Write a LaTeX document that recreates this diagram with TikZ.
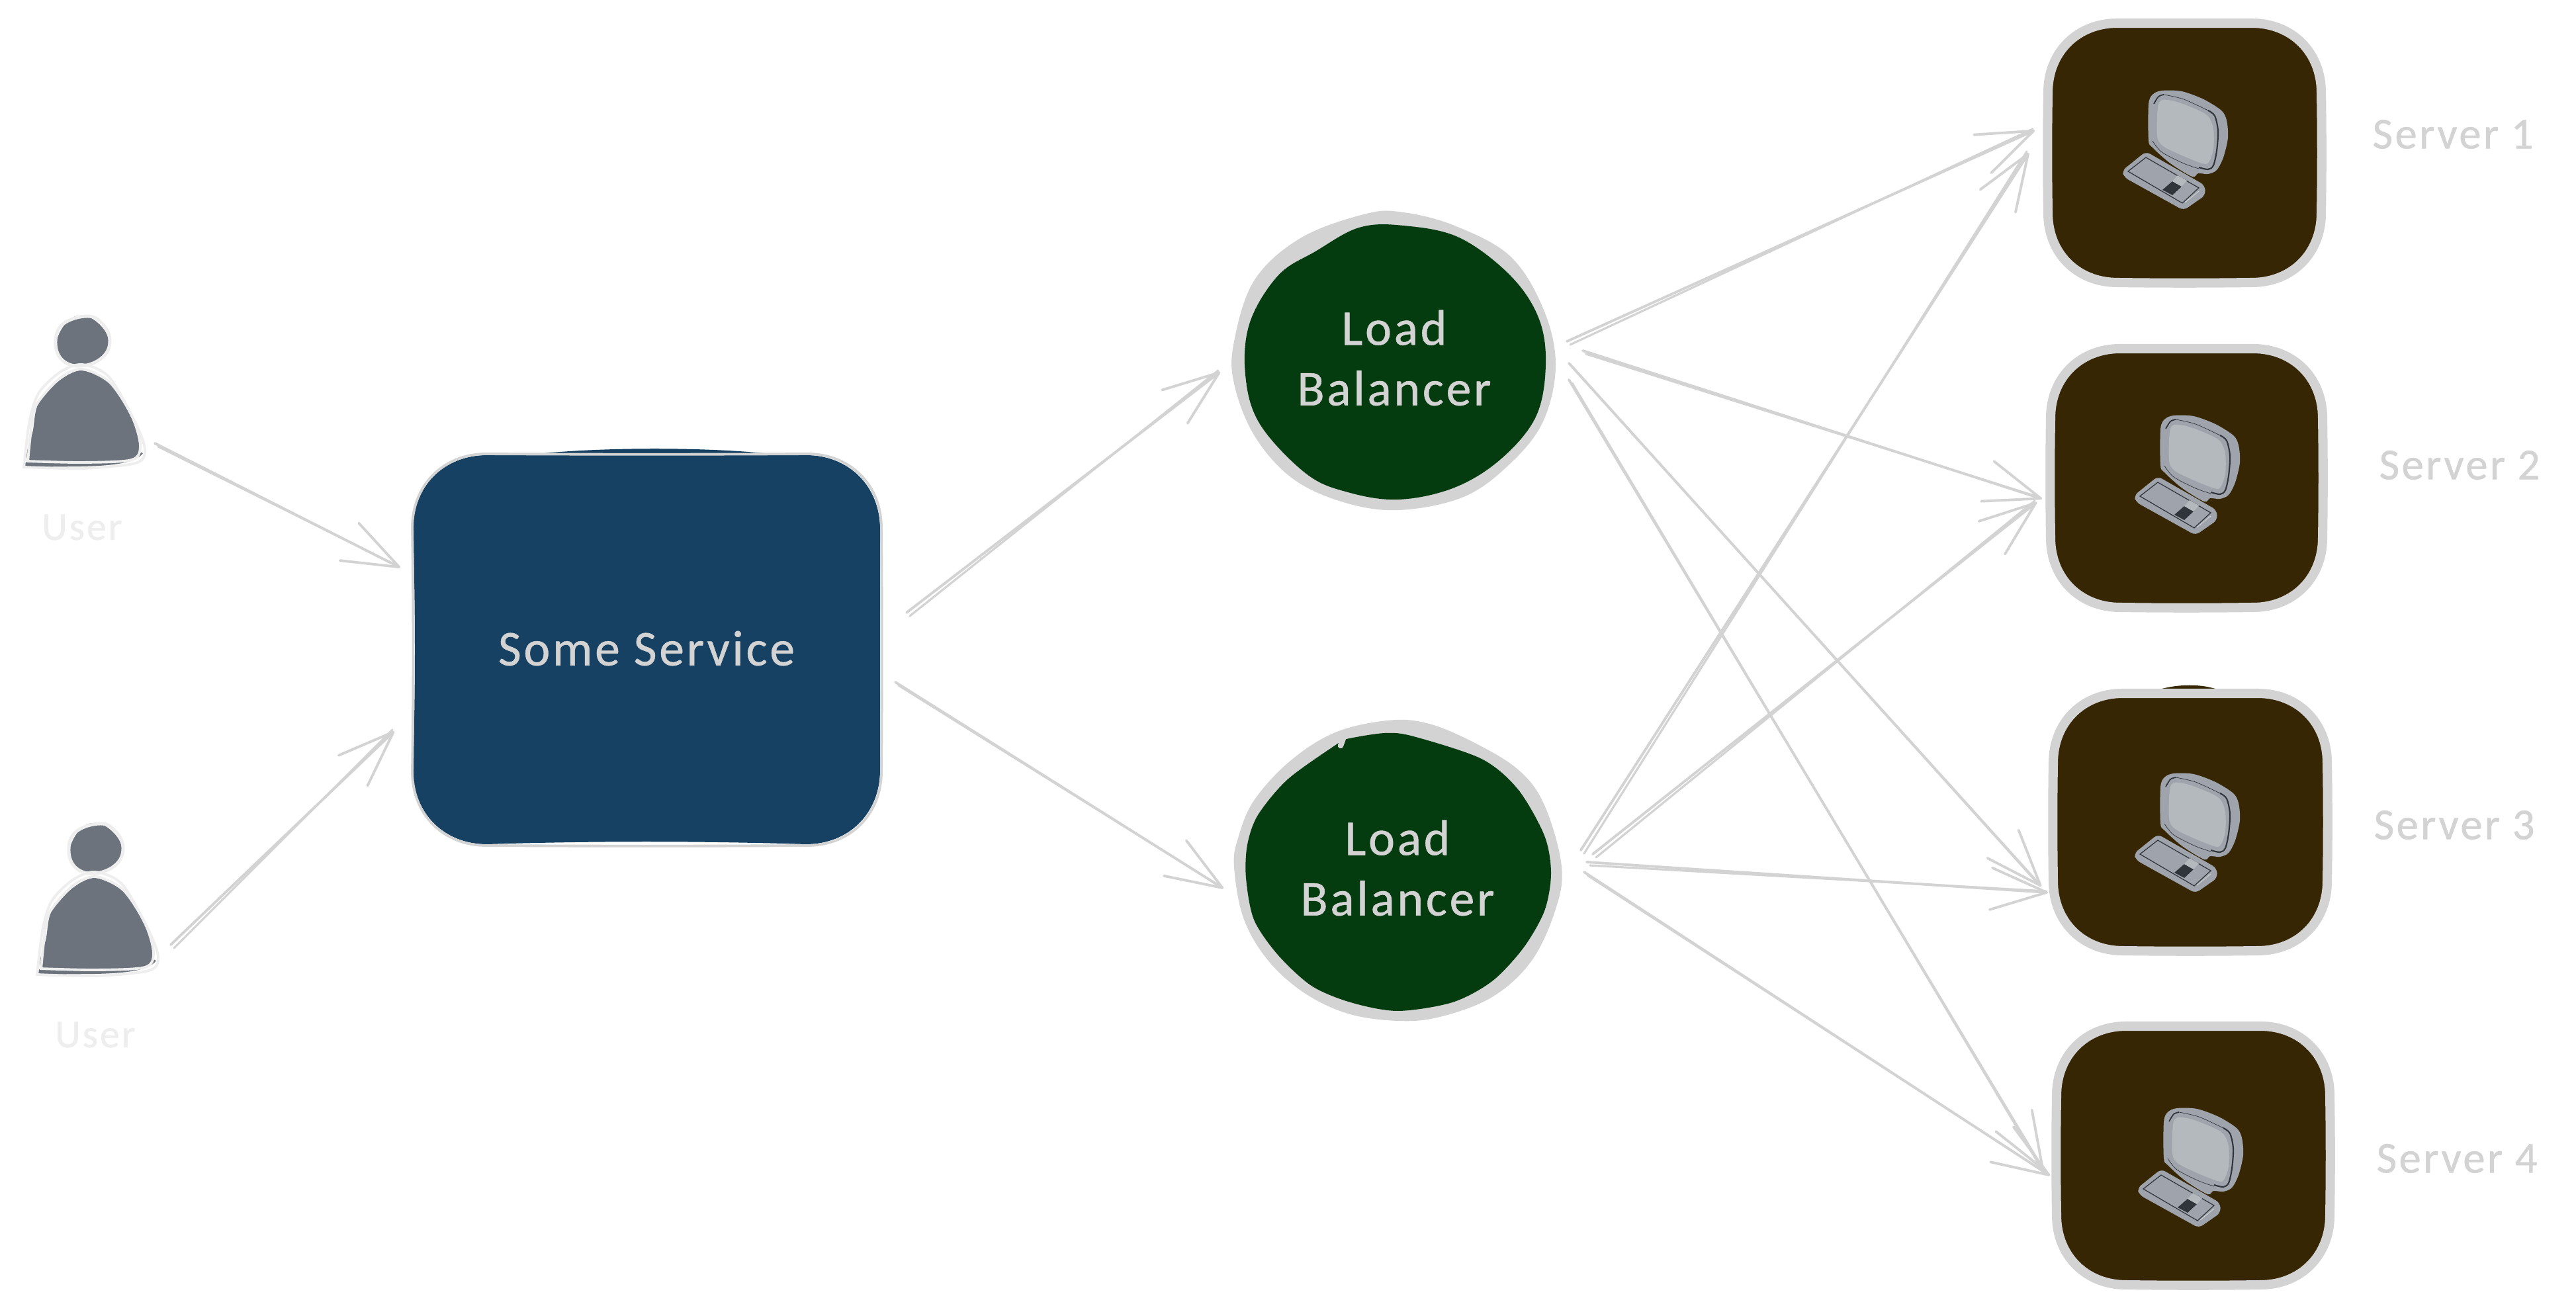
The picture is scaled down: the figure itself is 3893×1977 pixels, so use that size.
\documentclass[tikz,border=0pt]{standalone}
\usepackage{fontspec}
\setmainfont{Carlito}
\newfontfamily\handfont[LetterSpace=5,FakeBold=0.7]{Carlito}
\usetikzlibrary{arrows.meta}
\definecolor{inkgrey}{HTML}{D3D3D3}
\definecolor{palegrey}{HTML}{EEEEEE}
\definecolor{svcblue}{HTML}{164162}
\definecolor{lbgreen}{HTML}{053C0F}
\definecolor{srvbrown}{HTML}{362603}
\definecolor{usergrey}{HTML}{6C737D}
\definecolor{iconbody}{HTML}{9EA3AC}
\definecolor{iconscreen}{HTML}{B4B9BD}
\definecolor{icondark}{HTML}{2F353A}
\tikzset{
  conn/.style={draw=inkgrey,line width=1.1pt,line cap=round,
    -{Straight Barb[length=24pt,width=18pt,line width=1.1pt,round]}},
  connpass/.style={draw=inkgrey,line width=0.9pt,line cap=round},
  hub/.style={inner sep=0pt,outer sep=0pt,align=center},
  bigtext/.style={hub,text=inkgrey,font=\handfont\fontsize{21.5}{26}\selectfont},
  srvlabel/.style={hub,text=inkgrey,font=\handfont\fontsize{19}{23}\selectfont},
  usrlabel/.style={hub,text=palegrey,font=\handfont\fontsize{17}{20}\selectfont},
  userskin/.style={draw=palegrey,fill=usergrey,line width=1.3pt},
}
% rounded box path: x1,y1,x2,y2,r, bulges of top,right,bottom,left sides
\newcommand\roundish[9]{
  ({#1+#5},{#2})
  .. controls ({#1+#5+(#3-#1-2*#5)/3},{#2+#6}) and ({#3-#5-(#3-#1-2*#5)/3},{#2+#6}) .. ({#3-#5},{#2})
  .. controls ({#3-0.42*#5},{#2}) and ({#3},{#2+0.42*#5}) .. ({#3},{#2+#5})
  .. controls ({#3+#7},{#2+#5+(#4-#2-2*#5)/3}) and ({#3+#7},{#4-#5-(#4-#2-2*#5)/3}) .. ({#3},{#4-#5})
  .. controls ({#3},{#4-0.42*#5}) and ({#3-0.42*#5},{#4}) .. ({#3-#5},{#4})
  .. controls ({#3-#5-(#3-#1-2*#5)/3},{#4+#8}) and ({#1+#5+(#3-#1-2*#5)/3},{#4+#8}) .. ({#1+#5},{#4})
  .. controls ({#1+0.42*#5},{#4}) and ({#1},{#4-0.42*#5}) .. ({#1},{#4-#5})
  .. controls ({#1+#9},{#4-#5-(#4-#2-2*#5)/3}) and ({#1+#9},{#2+#5+(#4-#2-2*#5)/3}) .. ({#1},{#2+#5})
  .. controls ({#1},{#2+0.42*#5}) and ({#1+0.42*#5},{#2}) .. ({#1+#5},{#2}) -- cycle
}
% connector: source node, start offset, target node, end offset
\newcommand\conn[6]{
  \draw[connpass] ([shift={(#2+5,#3+5)}]#1.center) -- ([shift={(#5-3,#6-2)}]#4.center);
  \draw[conn] ([shift={(#2,#3)}]#1.center) -- ([shift={(#5,#6)}]#4.center);
}
\newcommand\compicon[2]{
  \begin{scope}[shift={(#1,#2)}]
    \fill[iconbody,rounded corners=2pt] (3243,229) -- (3332,280) -- (3333,295) -- (3300,318) -- (3210,268) -- (3207,258) -- cycle;
    \draw[icondark,line width=0.35pt] (3243,238) -- (3323,284) -- (3298,307) -- (3216,259) -- cycle;
    \draw[inkgrey,line width=0.25pt] (3323,289) -- (3302,306);
    \fill[icondark] (3268,287) -- (3283,274) -- (3297,282) -- (3283,295) -- cycle;
    \fill[iconscreen] (3291,265) -- (3305,273) -- (3297,282) -- (3283,274) -- cycle;
    \fill[iconbody] plot[smooth cycle,tension=0.5] coordinates {(3267,137) (3297,138) (3330,150) (3357,167) (3365,182) (3367,208) (3360,238) (3350,257) (3337,263) (3322,262) (3313,267) (3280,247) (3253,223) (3247,212) (3247,158) (3253,143)};
    \draw[icondark,line width=0.5pt] plot[smooth,tension=0.5] coordinates {(3255,157) (3262,146) (3270,143)};
    \draw[icondark,line width=0.2pt] plot[smooth,tension=0.5] coordinates {(3270,143) (3300,150) (3337,167)};
    \draw[icondark,line width=0.6pt] plot[smooth,tension=0.5] coordinates {(3337,167) (3347,175) (3352,198) (3350,228) (3345,250) (3337,256) (3323,253)};
    \draw[icondark,line width=0.2pt] plot[smooth,tension=0.5] coordinates {(3253,213) (3267,230) (3300,247) (3323,255)};
    \fill[iconscreen] plot[smooth cycle,tension=0.5] coordinates {(3268,151) (3290,154) (3323,167) (3338,177) (3345,195) (3345,225) (3338,245) (3328,247) (3293,233) (3268,220) (3260,205) (3261,162)};
  \end{scope}
}
\newcommand\userfig[2]{
  \begin{scope}[shift={(#1,#2)}]
    % head
    \fill[usergrey] plot[smooth cycle,tension=0.7] coordinates {(85,520) (100,488) (124,477) (150,490) (164,515) (155,538) (124,553) (95,545)};
    \draw[palegrey,line width=1.4pt] plot[smooth cycle,tension=0.7] coordinates {(84,518) (95,490) (132,478) (155,490) (166,515) (155,540) (124,553) (95,545)};
    % body
    \fill[usergrey] (38,698) -- (38,706) -- (124,705) .. controls (170,704) and (205,700) .. (216,685) -- (205,680) -- cycle;
    \fill[usergrey] plot[smooth cycle,tension=0.5] coordinates {(44,698) (50,650) (58,610) (90,575) (124,560) (166,580) (199,630) (210,673) (199,693) (124,699)};
    \draw[palegrey,line width=1.1pt] plot[smooth,tension=0.5] coordinates {(42,698) (47,650) (55,612) (90,572) (124,558) (166,578) (199,628) (212,673) (199,695) (124,699) (40,697)};
    \draw[palegrey,line width=1.1pt] plot[smooth,tension=0.5] coordinates {(36,708) (44,640) (58,595) (90,563) (124,551) (165,570) (205,640) (219,680) (205,700) (124,708) (36,706)};
  \end{scope}
}
\begin{document}
\begin{tikzpicture}[x=0.01cm,y=-0.01cm]
\path[fill=white,use as bounding box] (0,0) rectangle (3893,1977);

% --- users
\userfig{0}{0}
\userfig{20}{767}
\node[hub,minimum width=180,minimum height=230] (usr1) at (124,620) {};
\node[hub,minimum width=180,minimum height=230] (usr2) at (144,1387) {};
\node[usrlabel] (usrlab1) at (124,797) {User};
\node[usrlabel] (usrlab2) at (144,1564) {User};

% --- service
\fill[svcblue] (794,688) .. controls (900,675) and (1080,675) .. (1182,688) -- cycle;
\fill[svcblue] \roundish{624}{688}{1330}{1276}{112}{0}{0}{-5}{4};
\draw[inkgrey,line width=1.1pt] \roundish{623}{686}{1332}{1278}{112}{1}{1}{1}{2};
\node[bigtext] (svc) at (977,980) {Some Service};

% --- load balancers
\fill[inkgrey] plot[smooth cycle,tension=0.6] coordinates {(2065,323) (2121,321) (2198,341) (2282,387) (2332,466) (2351,551) (2332,637) (2282,701) (2212,751) (2114,771) (2030,759) (1953,723) (1896,659) (1865,580) (1865,516) (1896,423) (1967,359)};
\fill[lbgreen] plot[smooth cycle,tension=0.6] coordinates {(2054,344) (2121,341) (2205,359) (2282,416) (2325,480) (2336,551) (2321,630) (2268,694) (2198,737) (2114,755) (2037,744) (1974,716) (1904,641) (1882,566) (1889,487) (1932,416) (1988,380)};
\node[bigtext] (lb1) at (2107,541) {Load\\Balancer};

\fill[inkgrey] plot[smooth cycle,tension=0.6] coordinates {(2018,1107) (2097,1089) (2156,1093) (2223,1120) (2294,1163) (2334,1217) (2360,1310) (2350,1377) (2314,1453) (2255,1507) (2176,1537) (2112,1543) (2037,1532) (1970,1500) (1915,1450) (1879,1387) (1865,1310) (1871,1267) (1895,1210) (1950,1150)};
\fill[lbgreen] plot[smooth cycle,tension=0.5] coordinates {(2020,1125) (2035,1117) (2093,1108) (2136,1113) (2239,1147) (2294,1193) (2334,1263) (2344,1320) (2334,1377) (2302,1433) (2255,1483) (2195,1515) (2112,1528) (2041,1515) (1982,1490) (1931,1443) (1895,1390) (1883,1327) (1885,1277) (1901,1232) (1946,1178)};
\draw[inkgrey,line width=2.4pt,line cap=round] (2030,1116) -- (2026,1127);
\node[bigtext] (lb2) at (2112,1312) {Load\\Balancer};

% --- servers
\newcommand\srvbox[4]{%
  \fill[srvbrown] \roundish{#1}{#2}{#3}{#4}{105}{0}{0}{0}{0};
  \draw[inkgrey,line width=4pt] \roundish{#1}{#2}{#3}{#4}{105}{0}{1}{1}{-1};
}
\srvbox{3095}{35}{3508}{427}
\srvbox{3099}{527}{3510}{918}
\fill[srvbrown] (3257,1044) .. controls (3290,1033) and (3330,1033) .. (3356,1044) -- cycle;
\srvbox{3103}{1048}{3517}{1437}
\srvbox{3108}{1551}{3521}{1942}
\compicon{0}{0}
\compicon{18}{491}
\compicon{18}{1032}
\compicon{23}{1538}
\node[hub,minimum width=413,minimum height=392] (srv1) at (3301,231) {};
\node[hub,minimum width=413,minimum height=392] (srv2) at (3304,722) {};
\node[hub,minimum width=413,minimum height=392] (srv3) at (3310,1243) {};
\node[hub,minimum width=413,minimum height=392] (srv4) at (3315,1747) {};
\node[srvlabel] (srvlab1) at (3707,203) {Server 1};
\node[srvlabel] (srvlab2) at (3717,703) {Server 2};
\node[srvlabel] (srvlab3) at (3709,1247) {Server 3};
\node[srvlabel] (srvlab4) at (3713,1751) {Server 4};

% --- connectors
\conn{usr1}{110}{50}{svc}{-372}{-122}
\conn{usr2}{114}{41}{svc}{-381}{125}
\conn{svc}{393}{-54}{lb1}{-263}{21}
\conn{svc}{376}{51}{lb2}{-263}{31}
\conn{lb1}{261}{-25}{srv1}{-226}{-34}
\conn{lb1}{285}{-11}{srv2}{-218}{32}
\conn{lb1}{264}{8}{srv3}{-225}{97}
\conn{lb1}{264}{33}{srv4}{-227}{21}
\conn{lb2}{277}{-27}{srv1}{-235}{0}
\conn{lb2}{295}{-21}{srv2}{-226}{37}
\conn{lb2}{286}{-9}{srv3}{-215}{106}
\conn{lb2}{282}{6}{srv4}{-217}{30}
\end{tikzpicture}
\end{document}
